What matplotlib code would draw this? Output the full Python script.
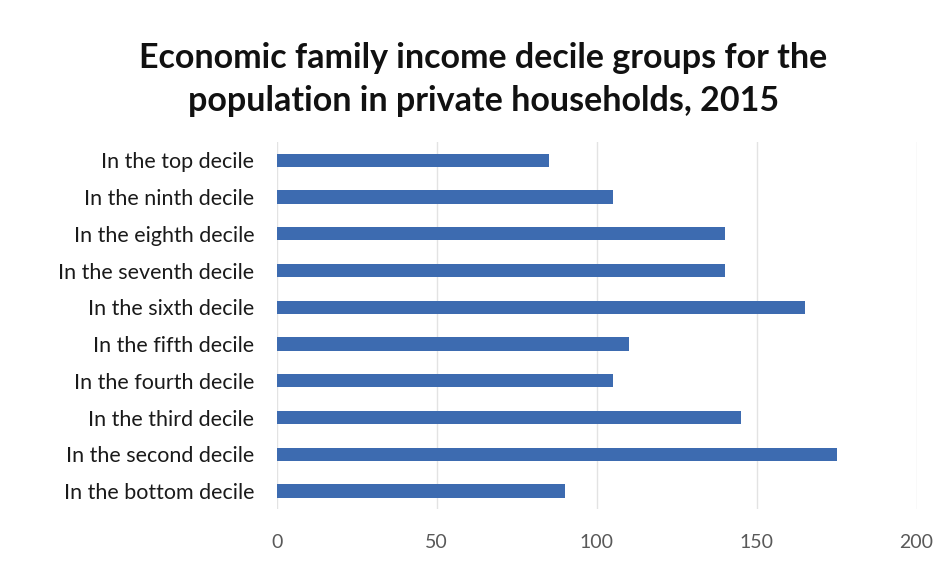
import matplotlib.pyplot as plt

plt.rcParams['font.family'] = ['Lato', 'DejaVu Sans']

# categories listed bottom to top
deciles = ["In the bottom decile", "In the second decile", "In the third decile",
           "In the fourth decile", "In the fifth decile", "In the sixth decile",
           "In the seventh decile", "In the eighth decile", "In the ninth decile",
           "In the top decile"]
values = [90, 175, 145, 105, 110, 165, 140, 140, 105, 85]
x_ticks = [0, 50, 100, 150, 200]

fig = plt.figure(figsize=(9.44, 5.76), dpi=100)
ax = fig.add_axes([0.293, 0.1156, 0.678, 0.638])

ax.barh(range(len(deciles)), values, height=0.36, color='#3D6BB0', zorder=3)

ax.set_xlim(0, 200)
ax.set_ylim(-0.5, len(deciles) - 0.5)
ax.set_xticks(x_ticks)
ax.set_xticklabels([str(t) for t in x_ticks], fontsize=14, color='#595959')
ax.set_yticks(range(len(deciles)))
ax.set_yticklabels(deciles, fontsize=15.5, color='#1a1a1a')
ax.tick_params(axis='both', length=0)
ax.tick_params(axis='x', pad=18)
ax.tick_params(axis='y', pad=16)
ax.grid(axis='x', color='#e3e3e3', linewidth=1, zorder=0)
for s in ax.spines.values():
    s.set_visible(False)

fig.text(0.512, 0.862, "Economic family income decile groups for the\npopulation in private households, 2015",
         ha='center', va='center', fontsize=24.5, fontweight='bold', color='#111111',
         linespacing=1.42)

plt.savefig("out.png")
